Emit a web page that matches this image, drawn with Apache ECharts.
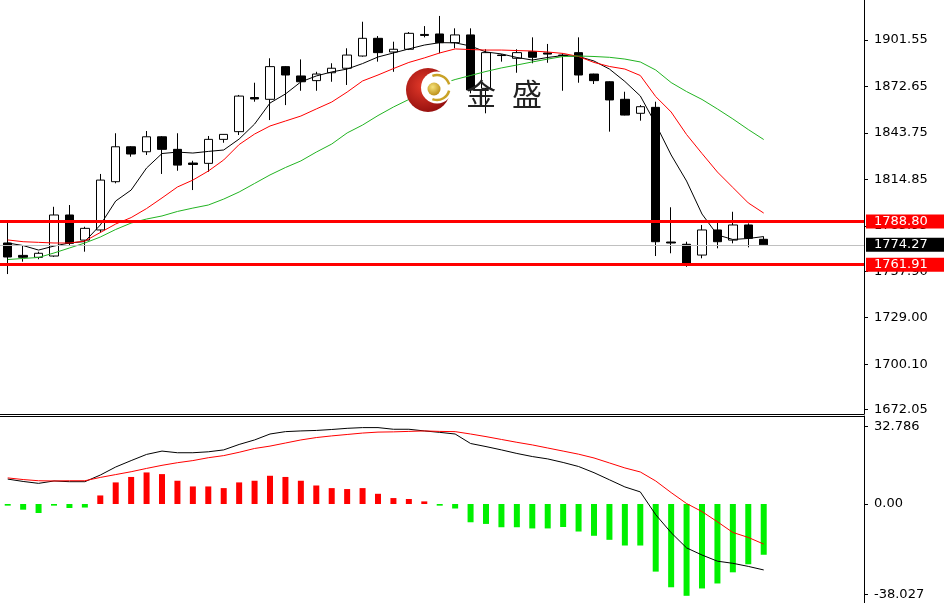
<!DOCTYPE html>
<html>
<head>
<meta charset="utf-8">
<script src="https://cdn.jsdelivr.net/npm/echarts@6/dist/echarts.min.js"></script>
<style>
html,body{margin:0;padding:0;background:#fff;}
#chart{width:944px;height:603px;}
</style>
</head>
<body>
<div id="chart"></div>
<script>
// ---- data ----
const categories = ['1','2','3','4','5','6','7','8','9','10','11','12','13','14','15','16','17','18','19','20',
  '21','22','23','24','25','26','27','28','29','30','31','32','33','34','35','36','37','38','39','40',
  '41','42','43','44','45','46','47','48','49','50'];
const emptySlots = ['', '', '', '', '', ''];

const opens = [1775.4,1767.7,1766.5,1767.3,1792.8,1777.2,1783.5,1813.5,1835.2,1832.1,
  1841.4,1833.6,1825.1,1824.9,1839.8,1844.6,1865.8,1864.7,1885.0,1879.2,
  1876.3,1881.2,1884.0,1891.6,1902.6,1894.1,1895.8,1905.0,1905.3,1899.9,
  1904.7,1871.5,1892.2,1890.2,1894.3,1893.5,1892.2,1893.7,1880.4,1875.6,
  1864.7,1856.0,1859.7,1776.0,1774.6,1767.9,1783.5,1777.2,1786.6,1777.7];
const highs = [1787.8,1774.1,1770.0,1797.9,1799.0,1785.5,1818.3,1843.6,1835.6,1845.0,
  1841.8,1843.6,1826.5,1841.9,1843.0,1867.4,1875.0,1890.2,1885.4,1889.5,
  1881.8,1887.1,1896.4,1912.9,1904.0,1900.5,1906.5,1910.2,1916.5,1908.8,
  1908.8,1895.8,1892.8,1895.8,1903.2,1899.1,1893.3,1903.2,1880.6,1875.9,
  1869.4,1861.1,1863.2,1797.6,1776.2,1786.6,1789.2,1794.8,1787.6,1779.3];
const lows = [1756.1,1763.8,1765.3,1766.8,1774.1,1770.0,1781.8,1812.5,1829.0,1830.1,
  1818.3,1820.3,1808.3,1819.7,1837.7,1842.5,1863.2,1851.8,1861.1,1870.0,
  1870.0,1875.6,1873.6,1891.2,1888.1,1881.8,1895.3,1903.2,1893.3,1896.4,
  1868.4,1856.0,1888.1,1881.2,1887.1,1887.4,1870.0,1875.0,1874.2,1844.6,
  1854.7,1851.4,1767.3,1769.0,1760.6,1765.9,1772.1,1775.2,1772.7,1774.1];
const closes = [1766.7,1766.5,1769.0,1792.8,1775.2,1784.5,1814.5,1835.2,1830.7,1841.4,
  1833.6,1823.8,1824.2,1839.8,1842.9,1866.7,1864.9,1885.0,1879.8,1875.6,
  1880.4,1884.0,1892.2,1902.6,1893.7,1895.8,1905.7,1904.4,1899.9,1904.7,
  1870.5,1893.7,1891.9,1893.7,1890.8,1892.8,1891.9,1879.8,1876.3,1864.3,
  1854.9,1860.1,1776.2,1775.4,1762.8,1783.5,1776.2,1786.6,1778.3,1774.27];

const maFast = [1775.4,1773.8,1771.0,1773.5,1775.4,1776.3,1786.6,1801.5,1808.3,1822.0,
  1831.0,1831.9,1831.3,1832.3,1833.2,1840.0,1849.3,1862.4,1868.0,1875.5,
  1879.2,1881.7,1883.5,1886.9,1891.0,1893.5,1896.0,1898.4,1899.9,1899.8,
  1897.8,1894.1,1892.9,1890.7,1889.1,1890.7,1891.9,1891.3,1888.5,1883.5,
  1875.8,1866.8,1849.3,1830.1,1813.9,1793.4,1780.4,1777.6,1778.2,1779.4];
const maMid = [1777.3,1776.2,1775.8,1775.4,1775.4,1776.6,1781.9,1787.2,1791.2,1796.8,
  1803.4,1810.2,1814.5,1820.1,1827.0,1836.6,1843.1,1848.1,1851.2,1854.3,
  1858.7,1863.0,1869.2,1876.1,1879.8,1883.8,1887.6,1890.4,1893.5,1896.0,
  1895.6,1895.3,1895.3,1895.0,1894.7,1894.1,1893.2,1891.3,1887.6,1885.1,
  1883.5,1879.5,1866.4,1856.8,1842.8,1831.0,1819.5,1809.9,1800.3,1794.0];
const maSlow = [1765.1,1765.8,1766.4,1769.2,1772.3,1775.4,1779.1,1783.8,1787.8,1790.3,
  1792.2,1795.0,1797.1,1799.0,1802.7,1807.1,1812.4,1817.7,1822.3,1826.4,
  1831.9,1836.9,1843.8,1848.7,1854.6,1859.9,1864.6,1869.9,1873.9,1877.0,
  1879.5,1882.0,1884.2,1886.0,1887.9,1889.7,1891.3,1891.6,1891.3,1890.8,
  1889.7,1887.9,1882.9,1875.1,1869.5,1864.6,1858.7,1852.5,1845.9,1839.7];

const macdHist = [-0.7,-2.4,-3.8,-0.7,-1.7,-1.5,3.6,9.1,11.4,13.3,
  12.6,9.8,7.4,7.4,6.7,9.1,9.8,11.9,11.4,9.8,
  7.8,6.7,6.3,6.7,4.3,2.5,2.1,1.1,-0.7,-1.9,
  -7.7,-8.4,-9.8,-9.8,-10.3,-10.3,-9.7,-11.6,-13.4,-15.1,
  -17.5,-17.5,-28.5,-35.1,-38.7,-35.6,-33.5,-28.8,-25.4,-21.4];
const macdLine = [10.5,9.5,8.7,9.7,9.4,9.4,12.2,15.6,18.3,20.9,
  22.3,21.6,21.6,22.0,22.8,25.1,27.0,29.5,30.5,30.8,
  31.0,31.4,31.9,32.2,32.2,31.5,31.5,30.8,30.2,29.5,
  25.5,24.2,22.8,21.3,20.0,19.0,17.5,15.8,13.2,10.2,
  7.2,5.1,-4.5,-12.1,-18.5,-21.5,-24.1,-25.0,-26.3,-27.8];
const signalLine = [11.0,10.3,9.8,9.7,9.8,9.8,11.2,12.4,13.6,15.0,
  16.3,17.4,18.3,19.5,20.4,21.8,23.4,24.4,25.7,27.0,
  28.0,28.7,29.3,29.9,30.3,30.4,30.6,30.8,30.6,30.5,
  29.5,28.4,27.2,26.0,24.9,23.6,22.3,21.0,19.4,17.3,
  15.2,13.5,9.7,4.8,0.2,-3.2,-7.5,-12.0,-14.1,-16.9];

const priceTicks = [1672.05,1700.10,1729.00,1757.90,1785.95,1814.85,1843.75,1872.65,1901.55];
const macdTickValues = [32.786, 0, -38.027];
const macdTickLabels = ['32.786', '0.00', '-38.027'];

const levelHigh = 1788.80;
const levelLow = 1761.91;
const lastPrice = 1774.27;

// ---- chart ----
const candleData = opens.map((o, i) => [o, closes[i], lows[i], highs[i]]);
const xData = categories.concat(emptySlots);
const axisFont = 'DejaVu Sans';

const chart = echarts.init(document.getElementById('chart'), null, {renderer: 'canvas'});

const boxLabel = (bg) => ({
  show: true,
  position: 'end',
  distance: 2,
  formatter: p => p.value.toFixed(2),
  backgroundColor: bg,
  color: '#fff',
  fontFamily: axisFont,
  fontSize: 13,
  padding: [1, 0, 0, 8],
  width: 70,
  height: 13,
  lineHeight: 13,
  align: 'left'
});

chart.setOption({
  animation: false,
  backgroundColor: '#fff',
  grid: [
    {left: -2, width: 866, top: 0, height: 414},
    {left: -2, width: 866, top: 416, height: 187}
  ],
  xAxis: [
    {type: 'category', gridIndex: 0, data: xData, boundaryGap: true,
     axisLine: {show: true, onZero: false, lineStyle: {color: '#000', width: 1}},
     axisTick: {show: false}, axisLabel: {show: false}, splitLine: {show: false}},
    {type: 'category', gridIndex: 1, data: xData, boundaryGap: true, position: 'top',
     axisLine: {show: true, onZero: false, lineStyle: {color: '#000', width: 1}},
     axisTick: {show: false}, axisLabel: {show: false}, splitLine: {show: false}}
  ],
  yAxis: [
    {type: 'value', gridIndex: 0, position: 'right', scale: true,
     min: 1669.13, max: 1926.41,
     axisLine: {show: true, lineStyle: {color: '#000', width: 1}},
     axisTick: {show: true, length: 4, customValues: priceTicks, lineStyle: {color: '#000'}},
     axisLabel: {show: true, customValues: priceTicks, margin: 10,
       formatter: v => v.toFixed(2), color: '#000', fontFamily: axisFont, fontSize: 13},
     splitLine: {show: false}},
    {type: 'value', gridIndex: 1, position: 'right', scale: true,
     min: -41.73, max: 37.09,
     axisLine: {show: true, lineStyle: {color: '#000', width: 1}},
     axisTick: {show: true, length: 4, customValues: macdTickValues, lineStyle: {color: '#000'}},
     axisLabel: {show: true, customValues: macdTickValues, margin: 10,
       formatter: v => {
         const k = macdTickValues.findIndex(t => Math.abs(t - v) < 1e-6);
         return k >= 0 ? macdTickLabels[k] : '';
       },
       color: '#000', fontFamily: axisFont, fontSize: 13},
     splitLine: {show: false}}
  ],
  series: [
    {
      name: 'last', type: 'line', xAxisIndex: 0, yAxisIndex: 0, data: [], z: 1,
      markLine: {
        silent: true, symbol: ['none', 'none'], animation: false,
        data: [{yAxis: lastPrice, lineStyle: {color: '#c0c0c0', width: 1, type: 'solid'},
                label: boxLabel('#000')}]
      }
    },
    {
      name: 'price', type: 'candlestick', xAxisIndex: 0, yAxisIndex: 0, z: 2,
      data: candleData, barWidth: 9,
      itemStyle: {color: '#fff', color0: '#000', borderColor: '#000', borderColor0: '#000', borderWidth: 1}
    },
    {name: 'MA fast', type: 'line', xAxisIndex: 0, yAxisIndex: 0, data: maFast, z: 3,
     symbol: 'none', smooth: false, lineStyle: {color: '#000', width: 1}},
    {name: 'MA mid', type: 'line', xAxisIndex: 0, yAxisIndex: 0, data: maMid, z: 3,
     symbol: 'none', smooth: false, lineStyle: {color: '#ff0000', width: 1}},
    {name: 'MA slow', type: 'line', xAxisIndex: 0, yAxisIndex: 0, data: maSlow, z: 3,
     symbol: 'none', smooth: false, lineStyle: {color: '#22b422', width: 1}},
    {
      name: 'levels', type: 'line', xAxisIndex: 0, yAxisIndex: 0, data: [], z: 10,
      markLine: {
        silent: true, symbol: ['none', 'none'], animation: false,
        data: [
          {yAxis: levelHigh, lineStyle: {color: '#ff0000', width: 3, type: 'solid'}, label: boxLabel('#ff0000')},
          {yAxis: levelLow, lineStyle: {color: '#ff0000', width: 3, type: 'solid'}, label: boxLabel('#ff0000')}
        ]
      }
    },
    {
      name: 'MACD hist', type: 'bar', xAxisIndex: 1, yAxisIndex: 1, data: macdHist, barWidth: 6, z: 2,
      itemStyle: {color: p => (p.value >= 0 ? '#ff0000' : '#00f000')}
    },
    {name: 'MACD', type: 'line', xAxisIndex: 1, yAxisIndex: 1, data: macdLine, z: 3,
     symbol: 'none', lineStyle: {color: '#000', width: 1}},
    {name: 'Signal', type: 'line', xAxisIndex: 1, yAxisIndex: 1, data: signalLine, z: 3,
     symbol: 'none', lineStyle: {color: '#ff0000', width: 1}}
  ],
  graphic: [
    {type: 'circle', z: 100, shape: {cx: 428, cy: 90, r: 22},
     style: {fill: {type: 'radial', x: 0.4, y: 0.4, r: 0.7,
       colorStops: [{offset: 0, color: '#e53a2a'}, {offset: 1, color: '#8c0b0b'}]}}},
    {type: 'circle', z: 101, shape: {cx: 437, cy: 87.5, r: 16}, style: {fill: '#fff'}},
    {type: 'arc', z: 102, shape: {cx: 437, cy: 87.5, r: 12.5, startAngle: -Math.PI * 0.62, endAngle: -Math.PI * 0.08, clockwise: true},
     style: {stroke: '#c9a227', lineWidth: 2.5, fill: null}},
    {type: 'arc', z: 102, shape: {cx: 437, cy: 87.5, r: 12.5, startAngle: Math.PI * 0.08, endAngle: Math.PI * 0.62, clockwise: true},
     style: {stroke: '#c9a227', lineWidth: 2.5, fill: null}},
    {type: 'circle', z: 103, shape: {cx: 434, cy: 89, r: 6.5},
     style: {fill: {type: 'radial', x: 0.4, y: 0.35, r: 0.7,
       colorStops: [{offset: 0, color: '#f6e27a'}, {offset: 1, color: '#b88a12'}]}}},
    {type: 'text', z: 103, style: {x: 481, y: 94, text: '金', align: 'center', verticalAlign: 'middle',
       fontSize: 30, fontFamily: 'Noto Sans CJK SC', fill: '#222'}},
    {type: 'text', z: 103, style: {x: 527, y: 94, text: '盛', align: 'center', verticalAlign: 'middle',
       fontSize: 30, fontFamily: 'Noto Sans CJK SC', fill: '#222'}}
  ]
});
</script>
</body>
</html>
